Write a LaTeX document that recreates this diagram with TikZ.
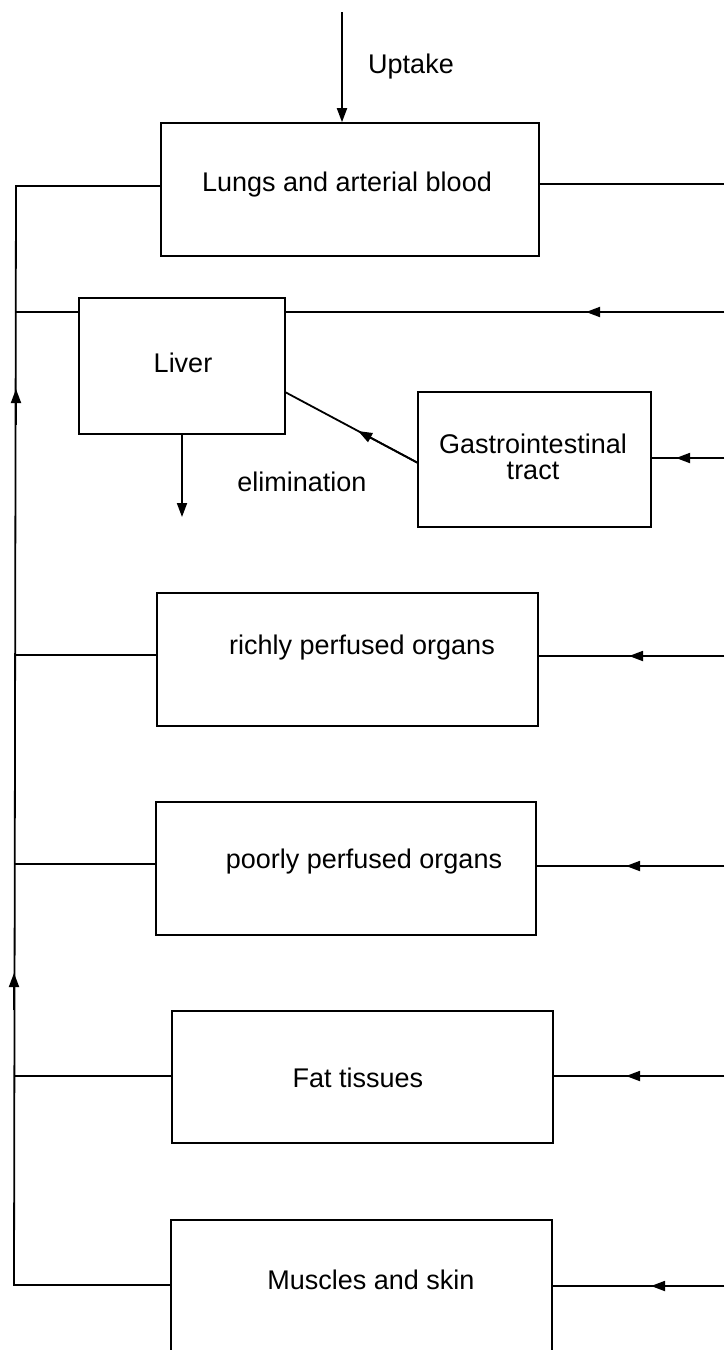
\documentclass[tikz,border=0pt]{standalone}
\usepackage{fontspec}
\setmainfont{Liberation Sans}
\usetikzlibrary{arrows.meta,calc}
\begin{document}
\begin{tikzpicture}[x=1pt,y=-1pt,
  box/.style={draw,line width=1.6pt,inner sep=0pt},
  lbl/.style={font=\fontsize{27}{30}\selectfont,inner sep=0pt,align=center},
  conn/.style={line width=1.8pt},
  arr/.style={line width=1.8pt,-{Triangle[length=14pt,width=10pt]}}]
\useasboundingbox (0,0) rectangle (724,1350);
\clip (0,0) rectangle (724,1350);
\fill[white] (0,0) rectangle (724,1350);

% boxes
\node[box,minimum width=378pt,minimum height=133pt] (lung) at (350,189.5) {};
\node[box,minimum width=206pt,minimum height=136pt] (liver) at (182,366) {};
\node[box,minimum width=233pt,minimum height=135pt] (gi) at (534.5,459.5) {};
\node[box,minimum width=381pt,minimum height=133pt] (rich) at (347.5,659.5) {};
\node[box,minimum width=380pt,minimum height=133pt] (poor) at (346,868.5) {};
\node[box,minimum width=381pt,minimum height=132pt] (fat) at (362.5,1077) {};
\node[box,minimum width=381pt,minimum height=140pt] (mus) at (361.5,1290) {};

% texts
\node[lbl] (tlung) at (347,185) {Lungs and arterial blood};
\node[lbl] (tliver) at (183,363) {Liver};
\node[lbl] (tgi) at (533,457) {Gastrointestinal\\[-4pt]tract};
\node[lbl] (trich) at (362,648) {richly perfused organs};
\node[lbl] (tpoor) at (364,862) {poorly perfused organs};
\node[lbl] (tfat) at (358,1078) {Fat tissues};
\node[lbl] (tmus) at (371,1280) {Muscles and skin};
\node[lbl] (tupt) at (411,67) {Uptake};
\node[lbl] (telim) at (302,482) {elimination};

% coordinates
\coordinate (upt) at (342,12);
\coordinate (vtop) at (16,186);
\coordinate (vbot) at (14,1285);
\coordinate (vliv) at (16,312);
\coordinate (vrich) at (15,655);
\coordinate (vpoor) at (15,864);
\coordinate (vfat) at (14,1076);
\coordinate (a1s) at (16,425);
\coordinate (a1e) at (16,389);
\coordinate (a2s) at (14,1010);
\coordinate (a2e) at (14,973);
\coordinate (rlung) at (724,184);
\coordinate (rliv) at (724,312);
\coordinate (tliv) at (586,312);
\coordinate (rgi) at (724,458);
\coordinate (tgi2) at (676,458);
\coordinate (rrich) at (724,656);
\coordinate (trich2) at (629,656);
\coordinate (rpoor) at (724,866);
\coordinate (tpoor2) at (626,866);
\coordinate (rfat) at (724,1076);
\coordinate (tfat2) at (626,1076);
\coordinate (rmus) at (724,1286);
\coordinate (tmus2) at (651,1286);
\coordinate (gil) at (418,463);
\coordinate (liv) at (285,392);
\coordinate (elim) at (182,517);

% uptake
\draw[arr] (upt) -- (upt |- lung.north);

% left return line
\draw[conn] (lung.west |- vtop) -- (vtop) -- (vbot) -- (mus.west |- vbot);
\draw[conn] (vliv) -- (liver.west |- vliv);
\draw[conn] (vrich) -- (rich.west |- vrich);
\draw[conn] (vpoor) -- (poor.west |- vpoor);
\draw[conn] (vfat) -- (fat.west |- vfat);
\draw[arr] (a1s) -- (a1e);
\draw[arr] (a2s) -- (a2e);

% right side
\draw[conn] (lung.east |- rlung) -- (rlung);
\draw[conn] (rliv) -- (liver.east |- rliv);
\draw[arr] (rliv) -- (tliv);
\draw[conn] (rgi) -- (gi.east |- rgi);
\draw[arr] (rgi) -- (tgi2);
\draw[conn] (rrich) -- (rich.east |- rrich);
\draw[arr] (rrich) -- (trich2);
\draw[conn] (rpoor) -- (poor.east |- rpoor);
\draw[arr] (rpoor) -- (tpoor2);
\draw[conn] (rfat) -- (fat.east |- rfat);
\draw[arr] (rfat) -- (tfat2);
\draw[conn] (rmus) -- (mus.east |- rmus);
\draw[arr] (rmus) -- (tmus2);

% GI to liver
\draw[conn] (gil) -- (liv);
\draw[arr] (gil) -- ($(gil)!0.45!(liv)$);

% elimination
\draw[arr] (liver.south) -- (elim);
\end{tikzpicture}
\end{document}
